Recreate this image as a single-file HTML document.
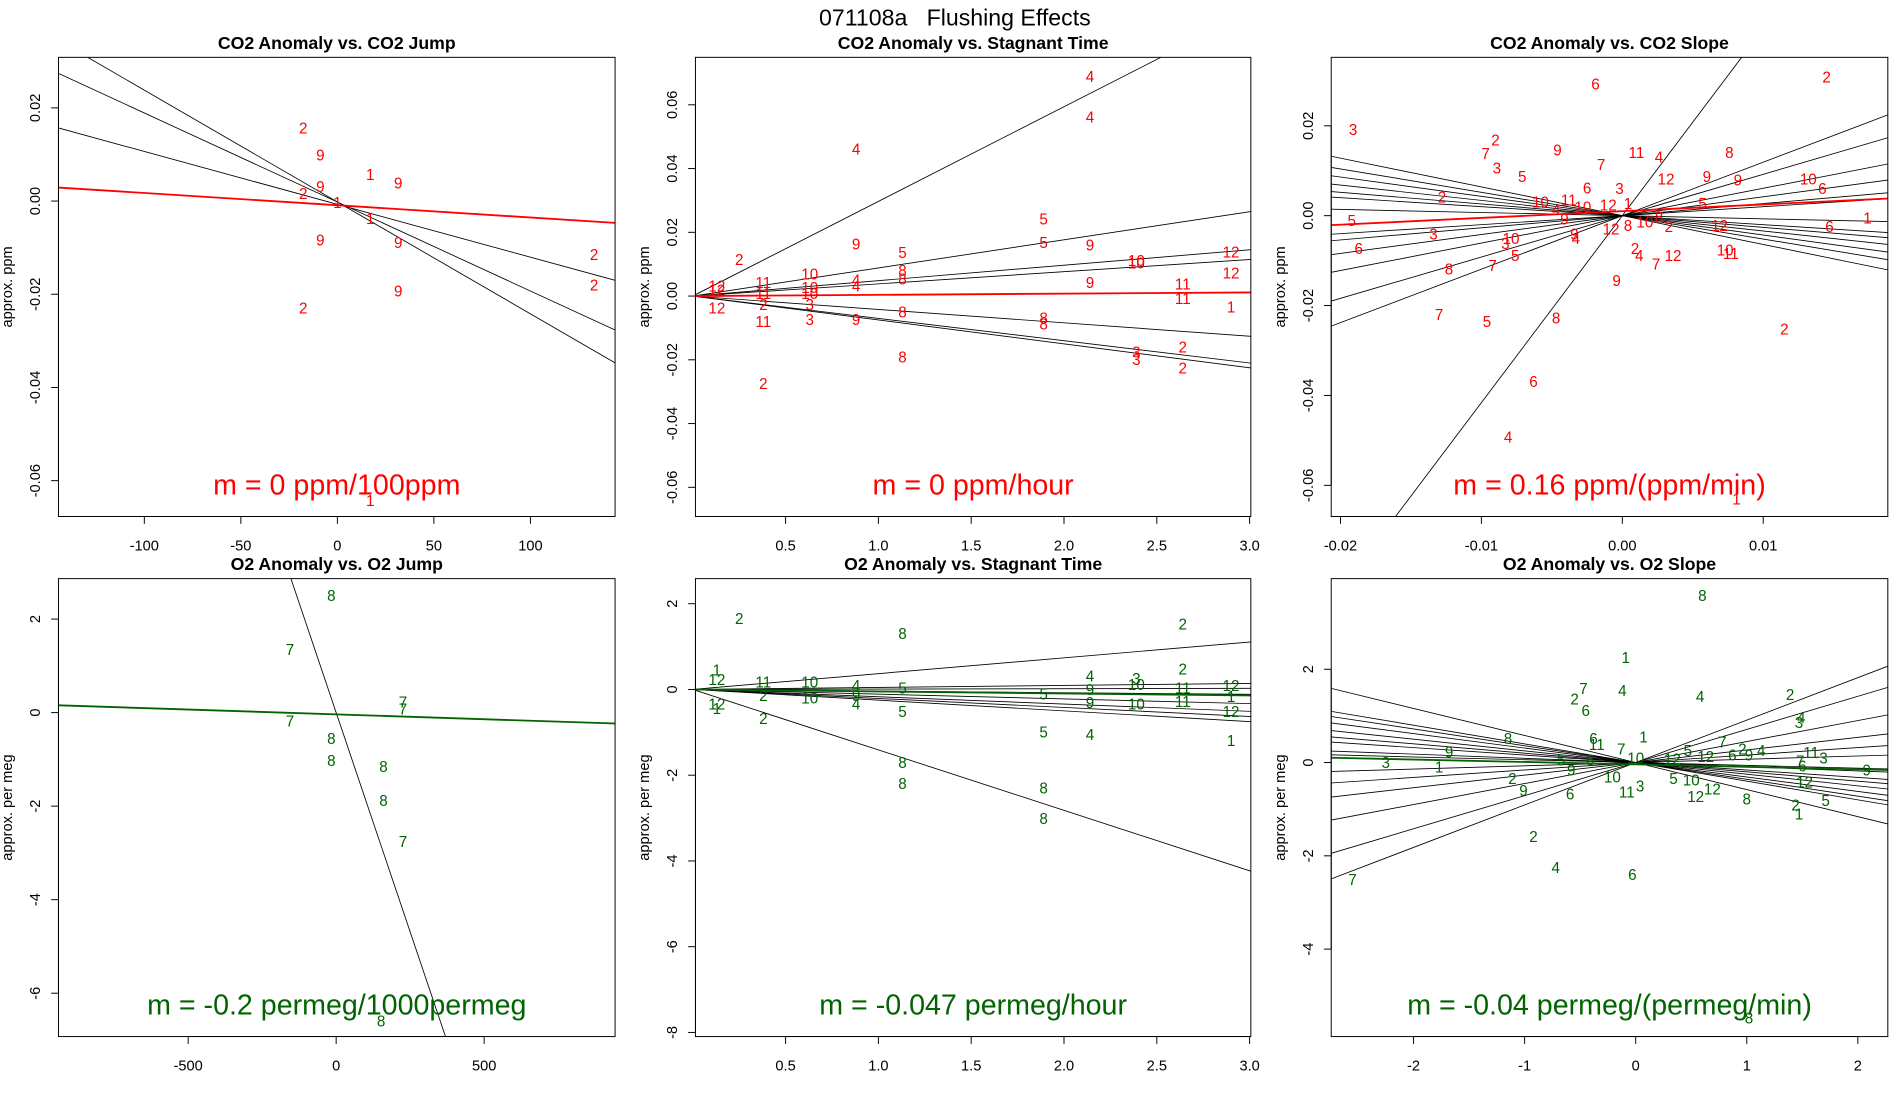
<!DOCTYPE html>
<html><head><meta charset="utf-8"><style>
html,body{margin:0;padding:0;background:#fff;width:1900px;height:1100px;overflow:hidden;}
svg{display:block;font-family:"Liberation Sans",Arial,sans-serif;}
</style></head><body>
<svg id="fig" width="1900" height="1100" viewBox="0 0 1560 903" xmlns="http://www.w3.org/2000/svg">
<text x="784" y="21" font-size="19" text-anchor="middle" xml:space="preserve" style="white-space:pre">071108a   Flushing Effects</text>
</svg>
<script>
// ---- Panel 1: CO2 Anomaly vs CO2 Jump ----
const p1Lines = [[-0.000240,-0.0002],[-0.000191,-0.0002],[-0.0001134,-0.0007]];
const p1Fit = [-0.0000263,-0.0009];
const p1X = [-17.7,-8.8,17,31.5,-8.8,-17.7,0,17,-8.8,31.5,133,133,31.5,-17.7,17];
const p1Y = [0.0157,0.0099,0.0057,0.0039,0.0031,0.0016,-0.0003,-0.0037,-0.0084,-0.0089,-0.0115,-0.018,-0.0193,-0.023,-0.0643];
const p1Lab = ["2","9","1","9","9","2","1","1","9","9","2","2","9","2","1"];
const p1XTicks = [-100,-50,0,50,100];
const p1YTicks = [0.02,0,-0.02,-0.04,-0.06];
const p1YTickLabels = ["0.02","0.00","-0.02","-0.04","-0.06"];

// ---- Panel 2: CO2 Anomaly vs Stagnant Time ----
const p2Lines = [[0.0297,0],[0.00882,0],[0.00484,0],[0.00382,0],[-0.0042,0],[-0.0070,0],[-0.0075,0]];
const p2Fit = [0.00038,0];
const p2X = [2.14,2.14,0.88,1.89,0.88,1.13,1.89,2.14,2.39,2.39,2.90,2.90,0.25,0.63,0.38,1.13,1.13,0.88,0.88,0.13,0.13,0.63,0.63,2.14,2.64,0.38,2.64,2.90,0.13,0.38,0.63,0.63,0.88,1.13,0.38,1.89,1.89,2.64,2.39,2.39,2.64,1.13,0.38];
const p2Y = [0.0688,0.0562,0.0462,0.0241,0.0164,0.0137,0.0168,0.0160,0.0111,0.0104,0.0138,0.0073,0.0115,0.0069,0.0042,0.0080,0.0053,0.0050,0.0031,0.0031,0.0019,0.0027,0.0008,0.0042,0.0038,0.0008,-0.0008,-0.0034,-0.0038,-0.0027,-0.0027,-0.0073,-0.0073,-0.005,-0.008,-0.0069,-0.0088,-0.0160,-0.0176,-0.0199,-0.0225,-0.0191,-0.0275];
const p2Lab = ["4","4","4","5","9","5","5","9","10","10","12","12","2","10","11","8","8","4","4","12","12","10","10","9","11","11","11","1","12","2","3","3","9","8","11","8","8","2","3","3","2","8","2"];
const p2XTicks = [0.5,1.0,1.5,2.0,2.5,3.0];
const p2XTickLabels = ["0.5","1.0","1.5","2.0","2.5","3.0"];
const p2YTicks = [0.06,0.04,0.02,0,-0.02,-0.04,-0.06];
const p2YTickLabels = ["0.06","0.04","0.02","0.00","-0.02","-0.04","-0.06"];

// ---- Panel 3: CO2 Anomaly vs CO2 Slope ----
const p3Lines = [[4.16,0],[1.19,0],[0.92,0],[0.61,0],[0.42,0],[0.27,0],[0.20,0],[-0.07,0],[-0.2,0],[-0.26,0],[-0.34,0],[-0.43,0],[-0.52,0],[-0.64,0]];
const p3Fit = [0.15,0.001];
const p3X = [-0.0019,0.0145,-0.0191,-0.0090,-0.0097,-0.0089,-0.0046,0.0010,0.0026,0.0076,-0.0071,-0.0015,0.0031,0.0060,0.0082,0.0132,0.0142,-0.0128,-0.0025,-0.0002,-0.0058,-0.0038,-0.0047,-0.0010,0.0004,0.0057,-0.0041,-0.0028,-0.0192,0.0174,0.0147,0.0069,-0.0134,-0.0034,-0.0008,0.0004,0.0016,0.0026,0.0033,-0.0033,-0.0083,-0.0079,-0.0076,-0.0187,0.0009,0.0012,0.0024,0.0036,0.0073,0.0077,-0.0123,-0.0092,-0.0004,-0.0130,-0.0096,-0.0047,0.0115,-0.0063,-0.0081,0.0081];
const p3Y = [0.0293,0.0309,0.0192,0.0168,0.0138,0.0106,0.0146,0.0141,0.0130,0.0141,0.0087,0.0114,0.0081,0.0087,0.0079,0.0081,0.0060,0.0041,0.0062,0.0060,0.0030,0.0035,0.0014,0.0024,0.0027,0.0027,-0.0008,0.0019,-0.0011,-0.0005,-0.0024,-0.0022,-0.0041,-0.0041,-0.0030,-0.0022,-0.0014,-0.0003,-0.0024,-0.0051,-0.0062,-0.0051,-0.0089,-0.0073,-0.0073,-0.0089,-0.0108,-0.0089,-0.0076,-0.0084,-0.0119,-0.0111,-0.0144,-0.0220,-0.0236,-0.0228,-0.0252,-0.0369,-0.0493,-0.0631];
const p3Lab = ["6","2","3","2","7","3","9","11","4","8","5","7","12","9","9","10","6","2","6","3","10","11","4","12","1","5","9","10","5","1","6","12","3","9","12","8","10","8","2","4","3","10","5","6","2","4","7","12","10","11","8","7","9","7","5","8","2","6","4","1"];
const p3XTicks = [-0.02,-0.01,0,0.01];
const p3XTickLabels = ["-0.02","-0.01","0.00","0.01"];
const p3YTicks = [0.02,0,-0.02,-0.04,-0.06];
const p3YTickLabels = ["0.02","0.00","-0.02","-0.04","-0.06"];

// ---- Panel 4: O2 Anomaly vs O2 Jump ----
const p4Lines = [[-0.01875,0]];
const p4Fit = [-0.000207,-0.038];
const p4X = [-16,-156,226,226,-156,-16,-16,160,160,226,152];
const p4Y = [2.5,1.35,0.23,0.08,-0.18,-0.55,-1.02,-1.15,-1.88,-2.76,-6.59];
const p4Lab = ["8","7","7","7","7","8","8","8","8","7","8"];
const p4XTicks = [-500,0,500];
const p4YTicks = [2,0,-2,-4,-6];

// ---- Panel 5: O2 Anomaly vs Stagnant Time ----
const p5Lines = [[0.369,0],[0.047,0],[0.009,0],[-0.038,0],[-0.11,0],[-0.17,0],[-0.21,0],[-0.25,0],[-1.41,0]];
const p5Fit = [-0.047,0];
const p5X = [0.25,1.13,2.64,2.64,0.13,0.13,0.38,0.63,2.14,2.39,2.39,2.90,2.64,0.88,1.13,2.14,1.89,0.38,0.63,0.88,0.88,2.64,2.90,2.14,2.39,0.13,0.13,2.90,0.38,1.13,1.89,2.14,2.90,1.13,1.13,1.89,1.89];
const p5Y = [1.65,1.31,1.53,0.48,0.45,0.23,0.17,0.17,0.31,0.26,0.11,0.09,0.03,0.09,0.03,0,-0.11,-0.14,-0.2,-0.14,-0.34,-0.28,-0.17,-0.31,-0.34,-0.34,-0.45,-0.51,-0.68,-0.51,-0.99,-1.05,-1.19,-1.70,-2.19,-2.30,-3.01];
const p5Lab = ["2","8","2","2","1","12","11","10","4","3","10","12","11","4","5","9","5","2","10","9","4","11","1","9","10","12","1","12","2","5","5","4","1","8","8","8","8"];
const p5YTicks = [2,0,-2,-4,-6,-8];

// ---- Panel 6: O2 Anomaly vs O2 Slope ----
const p6Lines = [[0.91,0],[0.71,0],[0.45,0],[0.27,0],[0.16,0],[0.07,0],[-0.06,0],[-0.09,0],[-0.16,0],[-0.2,0],[-0.25,0],[-0.31,0],[-0.36,0],[-0.40,0],[-0.58,0]];
const p6Fit = [-0.052,-0.04];
const p6X = [0.60,-0.09,-0.12,-0.47,-0.55,-0.45,0.58,1.39,1.49,1.47,-1.15,-1.68,-0.38,-0.35,0.07,-0.13,0.47,0.78,0.96,0.87,1.13,1.58,1.69,2.08,-0.67,-0.58,-0.41,-2.25,-1.77,0,0.33,0.63,1.02,1.48,1.50,0.34,0.50,-0.21,0.04,-0.08,0.69,0.54,-1.11,-1.01,-0.59,1.00,1.52,1.71,1.44,1.47,-0.92,-0.72,-0.03,-2.55,1.02];
const p6Y = [3.58,2.25,1.54,1.59,1.36,1.12,1.41,1.46,0.97,0.86,0.52,0.23,0.52,0.39,0.55,0.29,0.26,0.44,0.29,0.16,0.26,0.21,0.10,-0.16,0.05,-0.16,0.05,0,-0.10,0.10,0.08,0.13,0.16,0.03,-0.08,-0.34,-0.37,-0.31,-0.5,-0.63,-0.57,-0.73,-0.34,-0.60,-0.68,-0.78,-0.42,-0.81,-0.91,-1.10,-1.59,-2.25,-2.40,-2.51,-5.48];
const p6Lab = ["8","1","4","7","2","6","4","2","4","3","8","9","6","11","1","7","5","7","2","6","4","11","3","9","5","9","6","3","1","10","12","12","9","7","6","5","10","10","3","11","12","12","2","9","6","8","12","5","2","1","2","4","6","7","8"];
const p6XTicks = [-2,-1,0,1,2];
const p6YTicks = [2,0,-2,-4];

const RED = "#ff0000", GREEN = "#006400";
const NS = "http://www.w3.org/2000/svg";
const svg = document.getElementById('fig');

const panels = [
 {key:'co2-jump', title:'CO2 Anomaly vs. CO2 Jump', rect:[48,47,505,424], xz:277, xv:0, xs:1.585, yz:165, ys:3826,
  lines:p1Lines, fit:p1Fit, X:p1X, Y:p1Y, L:p1Lab, xt:p1XTicks, xtl:p1XTicks.map(String), yt:p1YTicks, ytl:p1YTickLabels, col:RED, ylab:'approx. ppm', ann:'m = 0 ppm/100ppm'},
 {key:'co2-stagnant', title:'CO2 Anomaly vs. Stagnant Time', rect:[571,47,1027,424], xz:645, xv:0.5, xs:152.4, yz:243, ys:2617,
  lines:p2Lines, fit:p2Fit, X:p2X, Y:p2Y, L:p2Lab, xt:p2XTicks, xtl:p2XTickLabels, yt:p2YTicks, ytl:p2YTickLabels, col:RED, ylab:'approx. ppm', ann:'m = 0 ppm/hour'},
 {key:'co2-slope', title:'CO2 Anomaly vs. CO2 Slope', rect:[1093,47,1550,424], xz:1332, xv:0, xs:11570, yz:177, ys:3690,
  lines:p3Lines, fit:p3Fit, X:p3X, Y:p3Y, L:p3Lab, xt:p3XTicks, xtl:p3XTickLabels, yt:p3YTicks, ytl:p3YTickLabels, col:RED, ylab:'approx. ppm', ann:'m = 0.16 ppm/(ppm/min)'},
 {key:'o2-jump', title:'O2 Anomaly vs. O2 Jump', rect:[48,475,505,851], xz:276, xv:0, xs:0.243, yz:585, ys:38.4,
  lines:p4Lines, fit:p4Fit, X:p4X, Y:p4Y, L:p4Lab, xt:p4XTicks, xtl:p4XTicks.map(String), yt:p4YTicks, ytl:p4YTicks.map(String), col:GREEN, ylab:'approx. per meg', ann:'m = -0.2 permeg/1000permeg'},
 {key:'o2-stagnant', title:'O2 Anomaly vs. Stagnant Time', rect:[571,475,1027,851], xz:645, xv:0.5, xs:152.4, yz:566, ys:35.2,
  lines:p5Lines, fit:p5Fit, X:p5X, Y:p5Y, L:p5Lab, xt:p2XTicks, xtl:p2XTickLabels, yt:p5YTicks, ytl:p5YTicks.map(String), col:GREEN, ylab:'approx. per meg', ann:'m = -0.047 permeg/hour'},
 {key:'o2-slope', title:'O2 Anomaly vs. O2 Slope', rect:[1093,475,1550,851], xz:1343, xv:0, xs:91.2, yz:626, ys:38.3,
  lines:p6Lines, fit:p6Fit, X:p6X, Y:p6Y, L:p6Lab, xt:p6XTicks, xtl:p6XTicks.map(String), yt:p6YTicks, ytl:p6YTicks.map(String), col:GREEN, ylab:'approx. per meg', ann:'m = -0.04 permeg/(permeg/min)'}
];

function mk(tag, attrs, parent){
  const e = document.createElementNS(NS, tag);
  for (const k in attrs) e.setAttribute(k, attrs[k]);
  (parent||svg).appendChild(e);
  return e;
}

panels.forEach((p, i) => {
  const [l,t,r,b] = p.rect;
  const sx = v => p.xz + (v - p.xv) * p.xs;
  const sy = v => p.yz - v * p.ys;
  const g = mk('g', {});
  
  

  const cp = mk('clipPath', {id:'clip'+i}, g);
  mk('rect', {x:l, y:t, width:r-l, height:b-t}, cp);

  const title = mk('text', {x:(l+r)/2, y:t-7, 'font-size':14.5, 'font-weight':'bold', 'text-anchor':'middle'}, g);
  title.textContent = p.title;
  
  

  const ylab = mk('text', {transform:`translate(${l-38},${(t+b)/2}) rotate(-90)`, 'font-size':12, 'text-anchor':'middle'}, g);
  ylab.textContent = p.ylab;
  
  

  const xa = mk('g', {}, g);
  
  
  const xs0 = sx(p.xt[0]), xs1 = sx(p.xt[p.xt.length-1]);
  mk('line', {x1:xs0, y1:b, x2:xs1, y2:b, stroke:'#000', 'stroke-width':0.8}, xa);
  p.xt.forEach((v, k) => {
    mk('line', {x1:sx(v), y1:b, x2:sx(v), y2:b+6, stroke:'#000', 'stroke-width':0.8}, xa);
    const tx = mk('text', {x:sx(v), y:b+28, 'font-size':12, 'text-anchor':'middle'}, xa);
    tx.textContent = p.xtl[k];
    
    
  });
  const ya = mk('g', {}, g);
  
  
  mk('line', {x1:l, y1:sy(p.yt[0]), x2:l, y2:sy(p.yt[p.yt.length-1]), stroke:'#000', 'stroke-width':0.8}, ya);
  p.yt.forEach((v, k) => {
    mk('line', {x1:l-6, y1:sy(v), x2:l, y2:sy(v), stroke:'#000', 'stroke-width':0.8}, ya);
    const tx = mk('text', {transform:`translate(${l-15},${sy(v)}) rotate(-90)`, 'font-size':12, 'text-anchor':'middle'}, ya);
    tx.textContent = p.ytl[k];
    
    
  });

  const inner = mk('g', {'clip-path':`url(#clip${i})`}, g);
  const xL = p.xv + (l - p.xz) / p.xs, xR = p.xv + (r - p.xz) / p.xs;
  p.lines.forEach(([m, c]) => {
    const ln = mk('line', {x1:sx(xL), y1:sy(c + m*xL), x2:sx(xR), y2:sy(c + m*xR), stroke:'#000', 'stroke-width':0.7}, inner);
    
    
  });
  const [fm, fc] = p.fit;
  const fl = mk('line', {x1:sx(xL), y1:sy(fc + fm*xL), x2:sx(xR), y2:sy(fc + fm*xR), stroke:p.col, 'stroke-width':1.5}, inner);
  
  

  p.X.forEach((xv, k) => {
    const pt = mk('text', {x:sx(xv), y:sy(p.Y[k]) + 4.5, fill:p.col, 'font-size':12.5, 'text-anchor':'middle'}, inner);
    pt.textContent = p.L[k];
    
    
  });

  const an = mk('text', {x:(l+r)/2, y:b-18, fill:p.col, 'font-size':23.5, 'text-anchor':'middle'}, g);
  an.textContent = p.ann;
  
  

  const box = mk('rect', {x:l, y:t, width:r-l, height:b-t, fill:'none', stroke:'#000', 'stroke-width':0.8}, g);
  
  
});
</script>
</body></html>
